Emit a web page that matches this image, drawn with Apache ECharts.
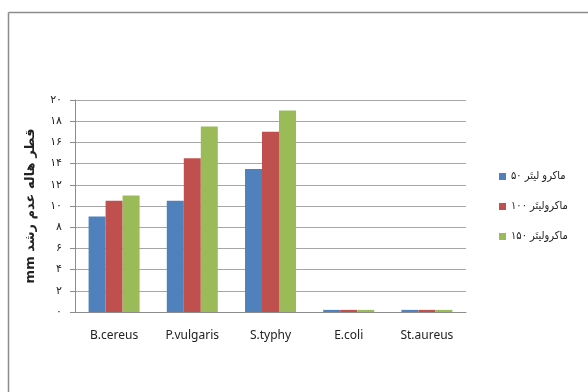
<!DOCTYPE html>
<html>
<head>
<meta charset="utf-8">
<script src="https://cdn.jsdelivr.net/npm/echarts@6/dist/echarts.min.js"></script>
<style>
  html, body { margin: 0; padding: 0; background: #fff; }
  #chart { width: 588px; height: 392px; }
</style>
</head>
<body>
<div id="chart"></div>
<script>
// Bacteria tested
const categories = ['B.cereus', 'P.vulgaris', 'S.typhy', 'E.coli', 'St.aureus'];

// Inhibition zone diameter (mm) per dose
const dose50 = [9.0, 10.5, 13.5, 0.2, 0.2];
const dose100 = [10.5, 14.5, 17.0, 0.2, 0.2];
const dose150 = [11.0, 17.5, 19.0, 0.2, 0.2];

const seriesNames = ['ماکرو لیتَر ۵۰', 'ماکرولیتَر ۱۰۰', 'ماکرولیتَر ۱۵۰'];

// Y tick labels in Persian digits (0, 2, ..., 20)
const yTickLabels = ['۰', '۲', '۴', '۶', '۸', '۱۰', '۱۲', '۱۴', '۱۶', '۱۸', '۲۰'];

// unit first so it sits at the lower end of the rotated title
const axisName = 'mm قطر هاله عدم رشد';

const colors = ['#4F81BD', '#C0504D', '#9BBB59'];
const values = [dose50, dose100, dose150];

const chart = echarts.init(document.getElementById('chart'), null, { renderer: 'canvas' });

chart.setOption({
  animation: false,
  backgroundColor: '#ffffff',
  graphic: [
    { type: 'line', shape: { x1: 8.5, y1: 12.5, x2: 588, y2: 12.5 }, style: { stroke: '#8c8c8c', lineWidth: 1.5 } },
    { type: 'line', shape: { x1: 8.5, y1: 12.5, x2: 8.5, y2: 392 }, style: { stroke: '#8c8c8c', lineWidth: 1.5 } }
  ],
  grid: { left: 75, top: 100, width: 391, height: 212, containLabel: false },
  legend: {
    orient: 'vertical',
    left: 494,
    top: 166,
    itemWidth: 7,
    itemHeight: 7,
    itemGap: 19,
    icon: 'rect',
    textStyle: { fontSize: 11, color: '#222', fontFamily: 'DejaVu Sans Condensed, DejaVu Sans' },
    data: seriesNames
  },
  xAxis: {
    type: 'category',
    data: categories,
    axisTick: { show: false },
    axisLine: { lineStyle: { color: '#8c8c8c', width: 1 } },
    axisLabel: { fontSize: 12, color: '#222', margin: 18, fontFamily: 'Noto Sans' }
  },
  yAxis: {
    type: 'value',
    min: 0,
    max: 20,
    interval: 2,
    name: axisName,
    nameLocation: 'middle',
    nameGap: 38,
    nameRotate: 90,
    nameTextStyle: { fontSize: 13, fontWeight: 'bold', color: '#222', fontFamily: 'DejaVu Sans' },
    axisLine: { show: true, lineStyle: { color: '#8c8c8c', width: 1 } },
    axisTick: { show: true, length: 5, lineStyle: { color: '#8c8c8c' } },
    axisLabel: {
      fontSize: 11,
      color: '#222',
      margin: 13,
      fontFamily: 'DejaVu Sans',
      formatter: function (v) { return yTickLabels[Math.round(v / 2)]; }
    },
    splitLine: { lineStyle: { color: '#a6a6a6', width: 1 } }
  },
  series: values.map(function (d, i) {
    return {
      name: seriesNames[i],
      type: 'bar',
      data: d,
      barWidth: 17,
      barGap: '0%',
      itemStyle: { color: colors[i] }
    };
  })
});
</script>
</body>
</html>
